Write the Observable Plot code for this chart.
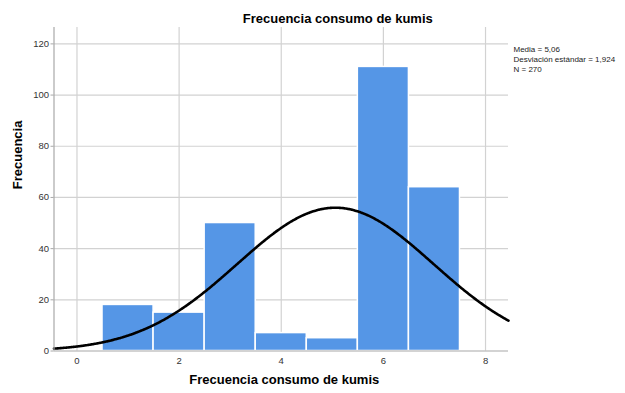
<!DOCTYPE html>
<html>
<head>
<meta charset="utf-8">
<script src="https://cdn.jsdelivr.net/npm/d3@7"></script>
<script src="https://cdn.jsdelivr.net/npm/@observablehq/plot@0.6"></script>
<style>
  html, body { margin: 0; padding: 0; background: #fff; }
  #chart { position: relative; width: 625px; height: 393px; }
  svg { font-family: "Liberation Sans", Arial, sans-serif; }
</style>
</head>
<body>
<div id="chart"></div>
<script>
// Data
const categories = [1, 2, 3, 4, 5, 6, 7];
const counts = [18, 15, 50, 7, 5, 111, 64];
const xTicks = [0, 2, 4, 6, 8];
const yTicks = [0, 20, 40, 60, 80, 100, 120];
const statLabels = ["Media = 5,06", "Desviación estándar = 1,924", "N = 270"];
const statMean = 5.06;
const statSd = 1.924;
const statN = 270;
const titleText = "Frecuencia consumo de kumis";
const yLabelText = "Frecuencia";
const xLabelText = "Frecuencia consumo de kumis";

const bars = categories.map((c, i) => ({x1: c - 0.5, x2: c + 0.5, y: counts[i]}));

// Fitted normal curve from the displayed statistics
const xMin = -0.45, xMax = 8.45;
const curve = d3.range(xMin, xMax + 0.001, 0.02).map(x => ({
  x,
  y: statN * 1 * Math.exp(-0.5 * ((x - statMean) / statSd) ** 2) / (statSd * Math.sqrt(2 * Math.PI))
}));

const gridColor = "#d2d2d2";
const axisColor = "#a8a8a8";

const plot = Plot.plot({
  width: 625,
  height: 393,
  marginLeft: 53.5,
  marginRight: 117,
  marginTop: 27,
  marginBottom: 42.5,
  style: {fontFamily: "Liberation Sans, Arial, sans-serif", background: "#fff"},
  x: {domain: [xMin, xMax], ticks: xTicks, label: null},
  y: {domain: [0, 126.4], ticks: yTicks, label: null},
  marks: [
    Plot.ruleX(xTicks, {stroke: gridColor, strokeWidth: 1.2}),
    Plot.ruleY(yTicks.filter(d => d > 0), {stroke: gridColor, strokeWidth: 1.2}),
    Plot.rectY(bars, {x1: "x1", x2: "x2", y: "y", fill: "#5596e6", stroke: "#fff", strokeWidth: 1.5}),
    Plot.line(curve, {x: "x", y: "y", stroke: "#000", strokeWidth: 2.6, curve: "basis"}),
    Plot.ruleX([xMin], {stroke: axisColor, strokeWidth: 1.2}),
    Plot.ruleY([0], {stroke: axisColor, strokeWidth: 1.2}),
    Plot.axisY(yTicks, {tickSize: 3, tickPadding: 2, stroke: axisColor, fill: "#333", fontSize: 9.5, label: null}),
    Plot.axisX(xTicks, {tickSize: 0, tickPadding: 6, fill: "#333", fontSize: 9.5, label: null}),
    Plot.text([titleText], {frameAnchor: "top", dx: 56.5, dy: -14, fontSize: 13, fontWeight: "bold", fill: "#000"}),
    Plot.text([xLabelText], {frameAnchor: "bottom", dx: 3, dy: 33, fontSize: 13, fontWeight: "bold", fill: "#000"}),
    Plot.text([yLabelText], {frameAnchor: "left", dx: -36, rotate: -90, fontSize: 13, fontWeight: "bold", fill: "#000"}),
    Plot.text([statLabels.join("\n")], {frameAnchor: "top-right", dx: 5, dy: 17, textAnchor: "start", lineAnchor: "top", lineHeight: 1.25, fontSize: 8, fill: "#222"})
  ]
});
document.getElementById("chart").appendChild(plot);
</script>
</body>
</html>
